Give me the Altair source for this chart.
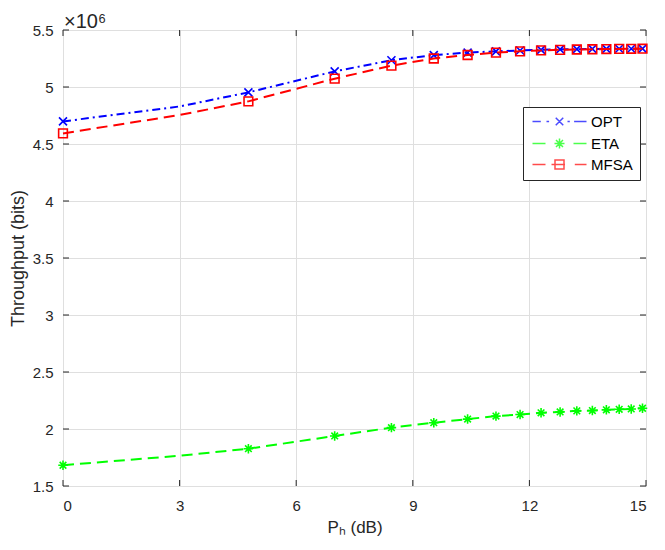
import altair as alt
import pandas as pd

SERIES = ["OPT", "ETA", "MFSA"]
COLORS = ["#0000ff", "#00ff00", "#ff0000"]

P_DB = [0, 3.01, 4.77, 6.99, 8.45, 9.54, 10.41, 11.14, 11.76, 12.30,
        12.79, 13.22, 13.62, 13.98, 14.31, 14.62, 14.91]
MARKED = [True, False, True, True, True, True, True, True, True, True,
          True, True, True, True, True, True, True]
OPT = [4.698, 4.83, 4.953, 5.137, 5.235, 5.28, 5.302, 5.313, 5.320, 5.326,
       5.330, 5.332, 5.334, 5.335, 5.336, 5.336, 5.337]
ETA = [1.682, 1.766, 1.827, 1.939, 2.012, 2.055, 2.087, 2.113, 2.127, 2.142,
       2.150, 2.159, 2.162, 2.168, 2.173, 2.176, 2.182]
MFSA = [4.593, 4.755, 4.874, 5.073, 5.187, 5.250, 5.281, 5.302, 5.313, 5.321,
        5.326, 5.329, 5.331, 5.333, 5.334, 5.335, 5.336]

X_TICKS = [0, 3, 6, 9, 12, 15]
Y_TICKS = [1.5, 2, 2.5, 3, 3.5, 4, 4.5, 5, 5.5]

W, H = 583, 456
FONT = "Liberation Sans"
AXC = "#262626"

rows = []
for name, vals in zip(SERIES, [OPT, ETA, MFSA]):
    for p, v, m in zip(P_DB, vals, MARKED):
        rows.append({"p": p, "v": v, "series": name, "marked": m})
df = pd.DataFrame(rows)

x_enc = alt.X("p:Q", scale=alt.Scale(domain=[0, 15], nice=False, zero=False),
              axis=alt.Axis(values=X_TICKS, title="Pₕ (dB)", grid=True,
                            gridColor="#dfdfdf", ticks=False, domain=False,
                            labelPadding=12, titlePadding=6, labelFontSize=15,
                            titleFontSize=17, titleFontWeight="normal",
                            labelFont=FONT, titleFont=FONT, labelColor=AXC,
                            titleColor=AXC))
y_enc = alt.Y("v:Q", scale=alt.Scale(domain=[1.5, 5.5], nice=False, zero=False),
              axis=alt.Axis(values=Y_TICKS, format="~g", title="Throughput (bits)",
                            grid=True, gridColor="#dfdfdf", ticks=False,
                            domain=False, labelPadding=10, titlePadding=5,
                            labelFontSize=15, titleFontSize=18,
                            titleFontWeight="normal", labelFont=FONT,
                            titleFont=FONT, labelColor=AXC, titleColor=AXC))

STYLE = {
    "OPT": {"dash": [8, 4, 2, 4], "shape": "M-1,-1L1,1M-1,1L1,-1", "size": 64},
    "ETA": {"dash": [11, 6],
            "shape": "M0,-1L0,1M-1,0L1,0M-0.7,-0.7L0.7,0.7M-0.7,0.7L0.7,-0.7",
            "size": 90},
    "MFSA": {"dash": [11, 6], "shape": "square", "size": 76},
}

layers = []
# inward tick marks drawn as dashed rules (tick at both ends of each grid line)
tick_x = alt.Chart(pd.DataFrame({"p": X_TICKS})).mark_rule(
    color=AXC, strokeWidth=1, strokeDash=[6, H - 12]).encode(x=x_enc)
tick_y = alt.Chart(pd.DataFrame({"v": Y_TICKS})).mark_rule(
    color=AXC, strokeWidth=1, strokeDash=[6, W - 12]).encode(y=y_enc)
layers += [tick_x, tick_y]

for name, col in zip(SERIES, COLORS):
    st = STYLE[name]
    base = alt.Chart(df).transform_filter(alt.datum.series == name)
    layers.append(base.mark_line(color=col, strokeWidth=2, strokeDash=st["dash"])
                  .encode(x=x_enc, y=y_enc))
    layers.append(base.transform_filter(alt.datum.marked)
                  .mark_point(shape=st["shape"], size=st["size"], filled=False,
                              color=col, strokeWidth=1.6, opacity=1)
                  .encode(x=x_enc, y=y_enc))

LEGEND_PATHS = [
    "M-5.4,0L-3.74,0M-2.6,0L-2.08,0M-0.75,-0.75L0.75,0.75M-0.75,0.75L0.75,-0.75M1.6,0L2.06,0M2.92,0L5.4,0",
    "M-5.4,0L-2.8,0M0,-1L0,1M-1,0L1,0M-0.7,-0.7L0.7,0.7M-0.7,0.7L0.7,-0.7M2.8,0L5.4,0",
    "M-5.4,0L-2.8,0M-1.6,0L1.1,0M-0.9,-0.9L0.9,-0.9L0.9,0.9L-0.9,0.9ZM3.06,0L5.4,0",
]

leg = alt.Legend(title=None, orient="none", legendX=460, legendY=77,
                 symbolSize=100, symbolStrokeWidth=1.5, symbolOffset=22,
                 labelOffset=24, labelFontSize=15, labelFont=FONT,
                 labelColor="#000000", rowPadding=5, padding=7,
                 strokeColor=AXC, fillColor="#ffffff", cornerRadius=0)

legend_layer = alt.Chart(pd.DataFrame({"series": SERIES})).transform_filter(
    "false").mark_point(filled=False, size=100, strokeWidth=1.5).encode(
    color=alt.Color("series:N", scale=alt.Scale(domain=SERIES, range=COLORS),
                    legend=leg),
    shape=alt.Shape("series:N", scale=alt.Scale(domain=SERIES, range=LEGEND_PATHS),
                    legend=leg),
)
layers.append(legend_layer)

chart = alt.layer(*layers).properties(
    width=W, height=H,
    autosize=alt.AutoSizeParams(type="none"),
    padding={"left": 55, "top": 22, "right": 5, "bottom": 54},
    title=alt.TitleParams("×10⁶", anchor="start", frame="group", fontSize=20,
                          fontWeight="normal", font=FONT, color=AXC, offset=-9,
                          dx=1),
).configure_view(stroke=AXC, strokeWidth=1).configure(background="#ffffff")

chart.save("out.html", embed_options={"renderer": "svg", "actions": False})
